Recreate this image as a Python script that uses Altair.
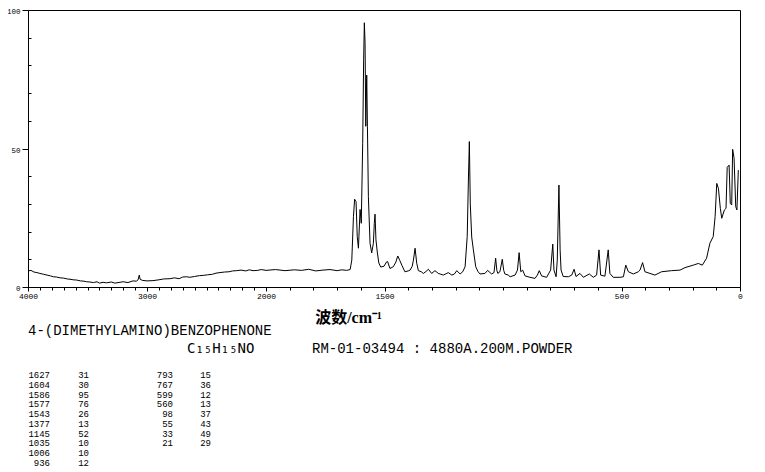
import altair as alt
import pandas as pd

# ---- spectrum (wavenumber cm-1, relative intensity) ----
wavenumber = [
    4000, 3975, 3950, 3925, 3900, 3870, 3840, 3810, 3787, 3760, 3730, 3700, 3670, 3647, 3620,
    3590, 3560, 3530, 3507, 3480, 3450, 3420, 3400, 3369, 3340, 3300, 3270, 3227, 3200, 3160,
    3118, 3090, 3075, 3065, 3058, 3040, 3000, 2950, 2900, 2860, 2807, 2770, 2730, 2700, 2667,
    2640, 2600, 2560, 2527, 2490, 2450, 2420, 2387, 2350, 2310, 2280, 2246, 2210, 2170, 2140,
    2109, 2070, 2040, 2000, 1960, 1920, 1880, 1850, 1820, 1790, 1760, 1730, 1700, 1680, 1660,
    1645, 1638, 1631, 1626, 1620, 1615, 1610, 1603, 1598, 1592, 1588, 1585, 1582, 1579, 1575,
    1572, 1568, 1561, 1554, 1547, 1543, 1540, 1536, 1530, 1524, 1516, 1502, 1491, 1487, 1477,
    1463, 1452, 1444, 1435, 1427, 1414, 1400, 1392, 1383, 1378, 1371, 1364, 1357, 1345, 1336,
    1325, 1315, 1301, 1287, 1273, 1262, 1252, 1240, 1231, 1216, 1205, 1195, 1181, 1170, 1160,
    1151, 1146, 1142, 1138, 1132, 1125, 1115, 1105, 1097, 1076, 1065, 1048, 1038, 1031, 1026,
    1022, 1013, 1003, 997, 992, 978, 970, 949, 939, 932, 925, 917, 907, 886, 865,
    855, 847, 837, 816, 799, 790, 785, 776, 771, 764, 759, 755, 746, 724, 710,
    700, 692, 675, 661, 636, 619, 605, 595, 588, 570, 556, 549, 535, 506, 492,
    482, 471, 450, 429, 422, 411, 401, 380, 359, 331, 289, 253, 232, 197, 176,
    159, 141, 127, 113, 105, 98, 91, 83, 77, 66, 59, 54, 46, 41, 35,
    31, 25, 18, 13, 7,
]
intensity = [
    5.8, 6.0, 5.4, 5.2, 4.9, 4.6, 4.3, 4.0, 3.7, 3.6, 3.3, 3.2, 2.9, 2.8, 2.6,
    2.5, 2.2, 2.1, 1.9, 1.8, 1.6, 1.9, 1.4, 1.7, 1.5, 1.8, 1.4, 1.7, 1.9, 1.6,
    2.2, 2.1, 2.6, 4.3, 2.8, 2.4, 2.2, 2.3, 2.6, 2.9, 3.0, 3.3, 3.0, 3.6, 3.7,
    3.5, 3.8, 4.1, 4.2, 4.4, 4.6, 5.0, 5.2, 5.4, 5.5, 5.8, 5.9, 6.1, 5.8, 6.2,
    5.9, 6.0, 6.3, 6.0, 6.3, 5.9, 6.2, 6.0, 6.4, 5.8, 6.1, 6.3, 5.9, 6.2, 6.0,
    6.3, 9.7, 25.4, 31.7, 30.8, 18.2, 14.0, 28.0, 23.0, 51.9, 82.0, 95.4, 88.0, 58.0, 76.5,
    58.0, 32.6, 15.8, 12.3, 15.8, 23.0, 26.3, 17.0, 12.3, 8.7, 7.2, 7.5, 9.1, 9.2, 6.7,
    7.3, 9.0, 11.2, 9.5, 7.9, 5.5, 5.8, 6.1, 7.5, 9.7, 14.0, 8.6, 5.9, 5.5, 4.9,
    5.6, 6.4, 4.9, 5.9, 4.9, 4.6, 4.3, 4.8, 5.2, 4.3, 4.7, 5.9, 4.7, 5.5, 7.3,
    18.2, 38.6, 52.5, 30.0, 18.0, 13.4, 7.3, 5.5, 4.7, 4.9, 6.0, 4.7, 5.2, 10.4, 6.0,
    4.9, 5.5, 10.0, 6.0, 4.7, 4.3, 3.7, 4.3, 6.1, 12.4, 5.5, 6.1, 4.0, 3.5, 3.1,
    4.3, 5.9, 4.0, 3.5, 6.1, 15.5, 6.1, 3.7, 9.7, 36.8, 13.4, 6.1, 3.8, 3.7, 4.3,
    6.4, 3.8, 4.9, 3.5, 4.7, 3.5, 4.3, 13.4, 4.3, 3.9, 13.4, 4.9, 3.5, 3.5, 3.7,
    7.9, 5.5, 4.7, 5.5, 6.1, 8.8, 5.5, 4.9, 4.3, 5.5, 5.9, 6.1, 7.0, 7.9, 8.5,
    7.9, 10.4, 15.8, 18.2, 25.4, 37.4, 35.6, 28.4, 24.8, 27.8, 28.4, 43.2, 44.0, 30.2, 29.6,
    49.7, 46.5, 29.0, 27.8, 42.2,
]

# ---- axis ticks / labels ----
x_major = [4000, 3000, 2000, 1500, 500, 0]
x_minor = [4000 - 100 * i for i in range(41)]
y_major = [0, 50, 100]
y_minor = [10, 20, 30, 40, 60, 70, 80, 90]

# ---- text ----
compound = "4-(DIMETHYLAMINO)BENZOPHENONE"
formula = "C\u2081\u2085H\u2081\u2085NO"
sample_info = "RM-01-03494 : 4880A.200M.POWDER"
x_title = "波数/cm\u207b\u00b9"

# ---- peak table ----
peak_wn_1 = ["1627", "1604", "1586", "1577", "1543", "1377", "1145", "1035", "1006", "936"]
peak_int_1 = ["31", "30", "95", "76", "26", "13", "52", "10", "10", "12"]
peak_wn_2 = ["793", "767", "599", "560", "98", "55", "33", "21"]
peak_int_2 = ["15", "36", "12", "13", "37", "43", "49", "29"]

W, H = 712, 277
df = pd.DataFrame({"wn": wavenumber, "val": intensity})

xscale = alt.Scale(domain=[4000, 2000, 0], range=[0, 238, W], nice=False, zero=False)
yscale = alt.Scale(domain=[0, 100], nice=False, zero=False)

LABEL_FONT = "Liberation Mono"

line = alt.Chart(df).mark_line(color="black", strokeWidth=1).encode(
    x=alt.X(
        "wn:Q", scale=xscale,
        axis=alt.Axis(
            values=x_major, orient="bottom", tickSize=4, labelPadding=1,
            labelFont=LABEL_FONT, labelFontSize=8, labelColor="black",
            labelFlush=False, labelOverlap=False, format="d", grid=False,
            domainColor="black", tickColor="black",
            title=x_title, titleFont="'Liberation Serif', 'Noto Sans CJK SC'",
            titleFontSize=16, titleFontWeight="bold", titleColor="black",
            titleX=320, titleY=30, titleAlign="center", titleBaseline="middle",
        ),
    ),
    y=alt.Y(
        "val:Q", scale=yscale,
        axis=alt.Axis(
            values=y_major, orient="left", tickSize=6, labelPadding=2,
            labelFont=LABEL_FONT, labelFontSize=7.5, labelColor="black",
            labelFlush=False, labelOverlap=False, labelOffset=1.5, grid=False,
            domainColor="black", tickColor="black", title=None,
        ),
    ),
)

minor = alt.Chart(df).mark_line(strokeOpacity=0).encode(
    x=alt.X(
        "wn:Q", scale=xscale,
        axis=alt.Axis(values=x_minor, orient="bottom", tickSize=3, labels=False,
                      domain=False, grid=False, tickColor="black", title=None),
    ),
    y=alt.Y(
        "val:Q", scale=yscale,
        axis=alt.Axis(values=y_minor, orient="left", tickSize=3, offset=-3, labels=False,
                      domain=False, grid=False, tickColor="black", title=None),
    ),
)


def text_layer(txt, x, y, size, align="left", baseline="middle", font=LABEL_FONT, lh=None):
    kw = dict(align=align, baseline=baseline, font=font, fontSize=size, color="black")
    if lh is not None:
        kw["lineHeight"] = lh
    return alt.Chart(pd.DataFrame({"k": [0]})).mark_text(**kw).encode(
        x=alt.value(x), y=alt.value(y), text=alt.value(txt)
    )


texts = [
    text_layer(compound, 0, 321, 14),
    text_layer(formula, 159, 339, 14, font="'DejaVu Sans Mono'"),
    text_layer(sample_info, 284, 339, 14),
    text_layer(peak_wn_1, 22, 361, 9, align="right", baseline="top", lh=9.75),
    text_layer(peak_int_1, 61, 361, 9, align="right", baseline="top", lh=9.75),
    text_layer(peak_wn_2, 145, 361, 9, align="right", baseline="top", lh=9.75),
    text_layer(peak_int_2, 183, 361, 9, align="right", baseline="top", lh=9.75),
]

chart = alt.layer(line, minor, *texts).resolve_axis(
    x="independent", y="independent"
).properties(
    width=W, height=H,
    autosize=alt.AutoSizeParams(type="none"),
    padding={"left": 20, "top": 2, "right": 17, "bottom": 181},
    background="white",
).configure_view(stroke="black", strokeWidth=1)

chart.save("out.html", embed_options={"renderer": "svg", "actions": False})
